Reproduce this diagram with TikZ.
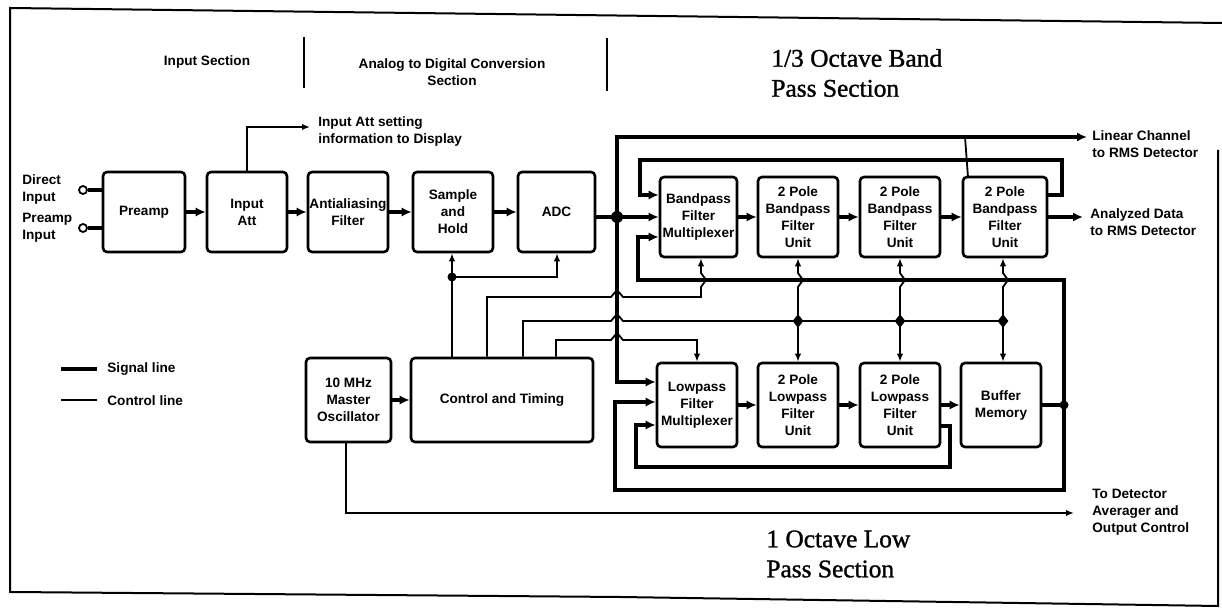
\documentclass[tikz,border=0pt]{standalone}
\usepackage{fontspec}
\setmainfont{Liberation Sans}
\newfontfamily\ttlfont{Liberation Serif}[FakeBold=1.2]
\usetikzlibrary{arrows.meta,shapes.geometric}
\newcommand\dgfont{\fontsize{6.8}{8.5}\selectfont\bfseries}
\newcommand\dgtitle{\ttlfont\fontsize{12.7}{15}\selectfont}
\begin{document}
\begin{tikzpicture}[x=0.5pt,y=-0.5pt,
  box/.style={draw,line width=1.3pt,rounded corners=2pt,align=center,inner sep=0pt,font=\dgfont},
  lbl/.style={inner sep=0pt,font=\dgfont},
  ttl/.style={inner sep=0pt,align=left,anchor=west,font=\dgtitle},
  sig/.style={line width=2pt},
  sigA/.style={line width=2pt,-{Latex[length=5pt,width=4.6pt]}},
  sigAA/.style={line width=2pt,{Latex[length=5pt,width=4.6pt]}-{Latex[length=5pt,width=4.6pt]}},
  ctl/.style={line width=0.9pt},
  ctlA/.style={line width=0.9pt,-{Latex[length=4pt,width=3.2pt]}},
  ctlAA/.style={line width=0.9pt,{Latex[length=4pt,width=3.2pt]}-{Latex[length=4pt,width=3.2pt]}},
  jdot/.style={circle,fill,inner sep=0pt,minimum size=4.5pt},
  dia/.style={diamond,fill,inner sep=0pt,minimum width=5.5pt,minimum height=7pt},
  port/.style={circle,draw,line width=0.9pt,minimum size=4pt,inner sep=0pt},
  divider/.style={line width=1pt}
]
\useasboundingbox (0,0) rectangle (1222,613);
% frame
\draw[line width=1pt] (1222,23) -- (10,8) -- (10,592) -- (620,597) -- (1218,606) -- (1218,150);

% headers
\node[lbl] (hin) at (207,62) {Input Section};
\draw[divider] (304,37) -- (304,88);
\node[lbl,align=center] (had) at (452,72) {Analog to Digital Conversion\\Section};
\draw[divider] (607,38) -- (607,91);
\node[ttl] (hbp) at (771,73) {1/3 Octave Band\\Pass Section};
\node[ttl] (hlp) at (766,554) {1 Octave Low\\Pass Section};

% inputs
\node[lbl,anchor=west,align=left] (tdi) at (22,189) {Direct\\Input};
\node[lbl,anchor=west,align=left] (tpi) at (22,228) {Preamp\\Input};
\node[port] (in1) at (83,190) {};
\node[port] (in2) at (83,228) {};

% row 1
\node[box,minimum width=41pt,minimum height=40pt] (pre) at (144,212) {Preamp};
\node[box,minimum width=40pt,minimum height=40pt] (att) at (247,212) {Input\\Att};
\node[box,minimum width=40pt,minimum height=40pt] (anti) at (348,212) {Antialiasing\\Filter};
\node[box,minimum width=40pt,minimum height=40pt] (sh) at (453,212) {Sample\\and\\Hold};
\node[box,minimum width=38.5pt,minimum height=40pt] (adc) at (556.5,212) {ADC};

% bandpass row
\node[box,minimum width=38.5pt,minimum height=40pt] (bpm) at (698.5,217) {Bandpass\\Filter\\Multiplexer};
\node[box,minimum width=40pt,minimum height=40pt] (bp2) at (798,217) {2 Pole\\Bandpass\\Filter\\Unit};
\node[box,minimum width=40pt,minimum height=40pt] (bp3) at (900,217) {2 Pole\\Bandpass\\Filter\\Unit};
\node[box,minimum width=42pt,minimum height=40pt] (bp4) at (1005,217) {2 Pole\\Bandpass\\Filter\\Unit};

% lowpass row
\node[box,minimum width=40pt,minimum height=42pt] (lpm) at (697,405) {Lowpass\\Filter\\Multiplexer};
\node[box,minimum width=40pt,minimum height=42pt] (lp2) at (798,405) {2 Pole\\Lowpass\\Filter\\Unit};
\node[box,minimum width=40pt,minimum height=42pt] (lp3) at (900,405) {2 Pole\\Lowpass\\Filter\\Unit};
\node[box,minimum width=40pt,minimum height=42pt] (buf) at (1001,405) {Buffer\\Memory};

% control
\node[box,minimum width=42.5pt,minimum height=42pt] (osc) at (348.5,400) {10 MHz\\Master\\Oscillator};
\node[box,minimum width=91pt,minimum height=42pt] (ctl) at (502,400) {Control and Timing};

% output labels
\node[lbl,anchor=west,align=left] (tlin) at (1092,144) {Linear Channel\\to RMS Detector};
\node[lbl,anchor=west,align=left] (tana) at (1090,222) {Analyzed Data\\to RMS Detector};
\node[lbl,anchor=west,align=left] (tdet) at (1092,512) {To Detector\\Averager and\\Output Control};
\node[lbl,anchor=west,align=left] (tatt) at (318,131) {Input Att setting\\information to Display};

% legend
\node[lbl,anchor=west] (lsig) at (107,369) {Signal line};
\node[lbl,anchor=west] (lctl) at (107,401) {Control line};
\draw[sig] (lsig.west) ++(-46,0) -- ++(36,0);
\draw[ctl] (lctl.west) ++(-46,-1) -- ++(36,0);

% coordinates
\coordinate (lt) at (1087,137);
\coordinate (bt) at (617,137);
\coordinate (bb) at (617,382);
\coordinate (tl1) at (1062,195);
\coordinate (tl2) at (640,160);
\coordinate (tk) at (968,177);
\coordinate (tk0) at (965,137);
\coordinate (rj) at (1064,405);
\coordinate (rt) at (1064,280);
\coordinate (rb) at (1064,490);
\coordinate (bl) at (638,237);
\coordinate (ol) at (615,402);
\coordinate (ir) at (950,426);
\coordinate (irb) at (950,467);
\coordinate (il) at (636,425);
\coordinate (ot) at (1081,513);
\coordinate (at) at (310,127);
\coordinate (cj) at (452,277);
\coordinate (cadc) at (557,277);
\coordinate (c2) at (487,297);
\coordinate (c3) at (523,321);
\coordinate (c4) at (556,340);

% signal connections
\draw[sig] (in1) -- (in1 -| pre.west);
\draw[sig] (in2) -- (in2 -| pre.west);
\draw[sigA] (pre) -- (att);
\draw[sigA] (att) -- (anti);
\draw[sigA] (anti) -- (sh);
\draw[sigA] (sh) -- (adc);
\draw[sigA] (adc.east |- bpm.west) -- (bpm.west);
\draw[sigAA] (lt) -- (bt) -- (bb) -- (bb -| lpm.west);
\node[jdot,minimum size=6pt] (j0) at (617,217) {};
\draw[sigA] (bp4.east |- tl1) -- (tl1) |- (tl2) |- (bpm.west |- tl1);
\draw[ctl] (tk0) -- (tk);
\draw[sigA] (bpm) -- (bp2);
\draw[sigA] (bp2) -- (bp3);
\draw[sigA] (bp3) -- (bp4);
\draw[sigA,shorten >=3.5pt] (bp4.east) -- (bp4.east -| tana.west);
\draw[sigA] (rj) -- (rt) -| (bl) -- (bl -| bpm.west);
\draw[sigA] (rj) -- (rb) -| (ol) -- (ol -| lpm.west);
\draw[sig] (buf.east) -- (rj);
\node[jdot] (j1) at (rj) {};
\draw[sigA] (lp3.east |- ir) -- (ir) -- (irb) -| (il) -- (il -| lpm.west);
\draw[sigA] (lpm) -- (lp2);
\draw[sigA] (lp2) -- (lp3);
\draw[sigA] (lp3) -- (buf);
\draw[sigA] (osc) -- (ctl);

% control connections
\draw[ctlA,shorten >=3.5pt] (osc.south -| 346,0) |- (ot);
\draw[ctlA] (att.north) |- (at);
\draw[ctlA] (cj |- ctl.north) -- (cj |- sh.south);
\draw[ctlA] (cj) -- (cadc) -- (cadc |- adc.south);
\node[jdot] (j2) at (cj) {};
\draw[ctlA] (c2 |- ctl.north) -- (c2) -- (611,297) -- (617,290) -- (623,297) -- (701,297) -- (701,287) -- (706,280) -- (701,273) -- (bpm.south -| 701,0);
\draw[ctl] (c3 |- ctl.north) -- (c3) -- (611,321) -- (617,314) -- (623,321) -- (1003,321);
\draw[ctlA] (c4 |- ctl.north) -- (c4) -- (611,340) -- (617,333) -- (623,340) -- (697,340) -- (lpm.north);
\draw[ctlAA] (bp2.south) -- (798,273) -- (803,280) -- (798,287) -- (lp2.north);
\draw[ctlAA] (bp3.south) -- (900,273) -- (905,280) -- (900,287) -- (lp3.north);
\draw[ctlAA] (bp4.south -| 1003,0) -- (1003,273) -- (1008,280) -- (1003,287) -- (buf.north -| 1003,0);
\node[dia] (d1) at (798,321) {};
\node[dia] (d2) at (900,321) {};
\node[dia] (d3) at (1003,321) {};
\end{tikzpicture}
\end{document}
